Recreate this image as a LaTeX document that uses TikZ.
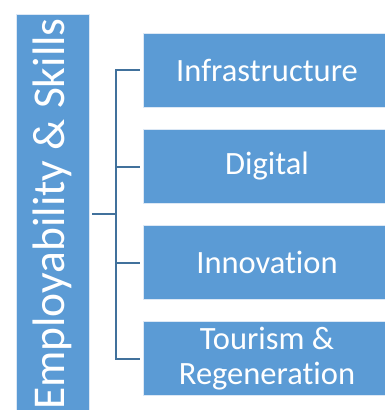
\documentclass[tikz,border=0pt]{standalone}
\usepackage{fontspec}
\setmainfont{Carlito}[Ligatures={NoCommon}]
\usepackage{graphicx}
\definecolor{boxblue}{HTML}{5B9BD5}
\definecolor{lineblue}{HTML}{41719C}
\definecolor{edgewhite}{HTML}{DCE8F5}
\tikzset{
  panel/.style={draw=edgewhite, line width=0.8pt, fill=boxblue, text=white, inner sep=0pt, align=center},
  subbox/.style={panel, minimum width=248pt, minimum height=74pt, font=\fontsize{32.5}{34.5}\selectfont},
  conn/.style={draw=lineblue, line width=2pt}
}
\begin{document}
\begin{tikzpicture}[x=1pt,y=-1pt]
\useasboundingbox (0,0) rectangle (385,410);
\clip (0,0) rectangle (385,410);
\node[panel, minimum width=73pt, minimum height=400pt, font=\fontsize{45.5}{48}\selectfont] (L) at (52.5,214) {\rotatebox{90}{Employability \& Skills}};
\node[subbox] (B1) at (267,70) {Infrastructure};
\node[subbox] (B2) at (267,166.5) {Digital};
\node[subbox] (B3) at (267,262.5) {Innovation};
\node[subbox] (B4) at (267,358.5) {Tourism \&\\Regeneration};
\coordinate (hub) at (116,214);
\draw[conn, shorten <=3pt] (L.east) -- (hub);
\draw[conn] ([xshift=-3pt]B1.west) -- (hub |- B1.west) -- (hub |- B4.west) -- ([xshift=-3pt]B4.west);
\draw[conn, shorten >=3pt] (hub |- B2.west) -- (B2.west);
\draw[conn, shorten >=3pt] (hub |- B3.west) -- (B3.west);
\end{tikzpicture}
\end{document}
